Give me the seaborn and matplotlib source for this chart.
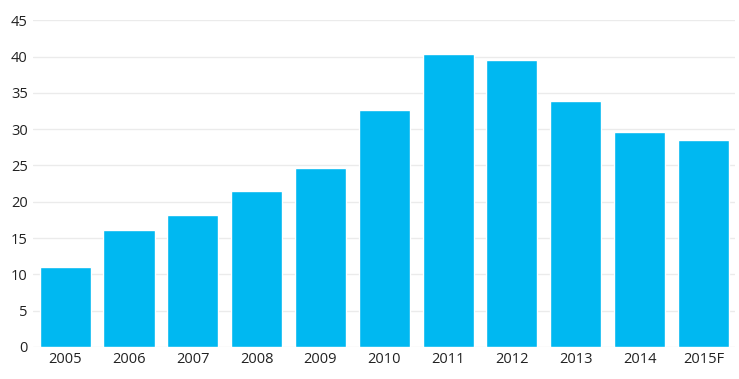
import matplotlib
matplotlib.use("Agg")
import matplotlib.pyplot as plt
import seaborn as sns
import pandas as pd

years = ['2005', '2006', '2007', '2008', '2009', '2010', '2011', '2012', '2013', '2014', '2015F']
values = [11.0, 16.1, 18.2, 21.5, 24.6, 32.6, 40.4, 39.6, 33.9, 29.6, 28.5]
y_ticks = [0, 5, 10, 15, 20, 25, 30, 35, 40, 45]

df = pd.DataFrame({'year': years, 'value': values})

sns.set_theme(style='white')
plt.rcParams['font.family'] = ['Open Sans', 'DejaVu Sans']

fig, ax = plt.subplots(figsize=(7.39, 3.79), dpi=100)
fig.subplots_adjust(left=0.045, right=0.995, top=0.946, bottom=0.085)

sns.barplot(data=df, x='year', y='value', color='#00B8F1', saturation=1, width=0.8, ax=ax)

ax.set_ylim(0, 45)
ax.set_yticks(y_ticks)
ax.yaxis.grid(True, color='#EBEBEB', linewidth=1)
ax.set_axisbelow(True)
for s in ax.spines.values():
    s.set_visible(False)
ax.tick_params(axis='both', length=0, labelsize=10.5, colors='#222222', pad=4)
ax.set_xlabel('')
ax.set_ylabel('')
ax.set_xlim(-0.5, len(years) - 0.5)

fig.savefig('out.png', dpi=100)
